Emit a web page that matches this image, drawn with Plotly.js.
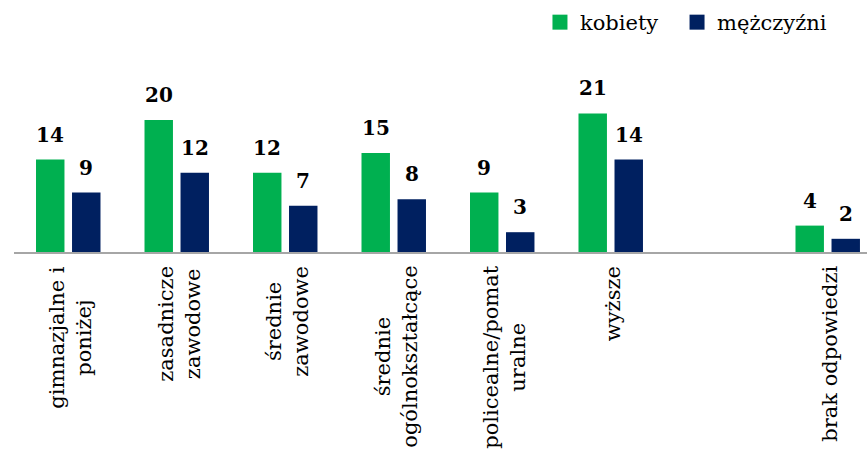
<!DOCTYPE html>
<html><head><meta charset="utf-8">
<script src="https://cdn.plot.ly/plotly-3.0.1.min.js"></script>
<style>html,body{margin:0;padding:0;background:#fff}#chart{width:867px;height:456px}</style>
</head><body><div id="chart"></div>
<script>
const categories = ["gimnazjalne i poniżej","zasadnicze zawodowe","średnie zawodowe","średnie ogólnokształcące","policealne/pomaturalne","wyższe"," ","brak odpowiedzi"];
const tickLabels = ["gimnazjalne i<br>poniżej","zasadnicze<br>zawodowe","średnie<br>zawodowe","średnie<br>ogólnokształcące","policealne/pomat<br>uralne","wyższe","","brak odpowiedzi"];
const kobiety = [14,20,12,15,9,21,null,4];
const mezczyzni = [9,12,7,8,3,14,null,2];
const seriesNames = ["kobiety","mężczyźni"];
const seriesValues = [kobiety, mezczyzni];
const colors = ["#00B050","#002060"];

const FONT = "DejaVu Serif";
const legendIds = ["legend","legend2"];
const traces = [];
seriesValues.forEach((vals, s) => {
  traces.push({type:"bar", x:categories, y:vals, name:seriesNames[s],
    marker:{color:colors[s]}, showlegend:false, hoverinfo:"skip"});
});
seriesValues.forEach((vals, s) => {
  traces.push({type:"scatter", mode:"markers", x:[null], y:[null], name:seriesNames[s],
    legend:legendIds[s],
    marker:{color:colors[s], symbol:"square", size:15}, showlegend:true});
});

const annotations = [];
seriesValues.forEach((vals, s) => {
  vals.forEach((v, i) => {
    if (v === null) return;
    annotations.push({x:categories[i], y:v, xref:"x", yref:"y", text:String(v),
      showarrow:false, xanchor:"center", yanchor:"bottom", xshift: s===0 ? -18 : 18, yshift:11,
      font:{family:FONT, size:20, color:"#000", weight:"bold"}});
  });
});
tickLabels.forEach((t, i) => {
  if (!t) return;
  annotations.push({x:categories[i], y:0, xref:"x", yref:"paper", text:t, textangle:-90,
    showarrow:false, xanchor:"center", yanchor:"top", yshift:-12, xshift:2, align:"center",
    font:{family:FONT, size:21, color:"#000"}});
});

const legendStyle = (x) => ({orientation:"h", xref:"container", yref:"container", x:x, y:0.9956,
  xanchor:"left", yanchor:"top", font:{family:FONT, size:21, color:"#000"}, bgcolor:"rgba(0,0,0,0)"});

const layout = {
  width:867, height:456,
  margin:{l:13.5, r:0, t:87, b:204},
  paper_bgcolor:"#fff", plot_bgcolor:"#fff",
  barmode:"group", bargap:0.336, bargroupgap:0.21,
  xaxis:{type:"category", categoryorder:"array", categoryarray:categories,
    range:[-0.5, 7.362], showticklabels:false, ticks:"", showgrid:false, zeroline:false,
    showline:true, linecolor:"#A6A6A6", linewidth:2, fixedrange:true},
  yaxis:{range:[0,25], visible:false, showgrid:false, zeroline:false, fixedrange:true},
  showlegend:true,
  legend:legendStyle(0.6228),
  legend2:legendStyle(0.7809),
  annotations:annotations,
  font:{family:FONT}
};
Plotly.newPlot("chart", traces, layout, {displayModeBar:false, staticPlot:true});
</script>
</body></html>
